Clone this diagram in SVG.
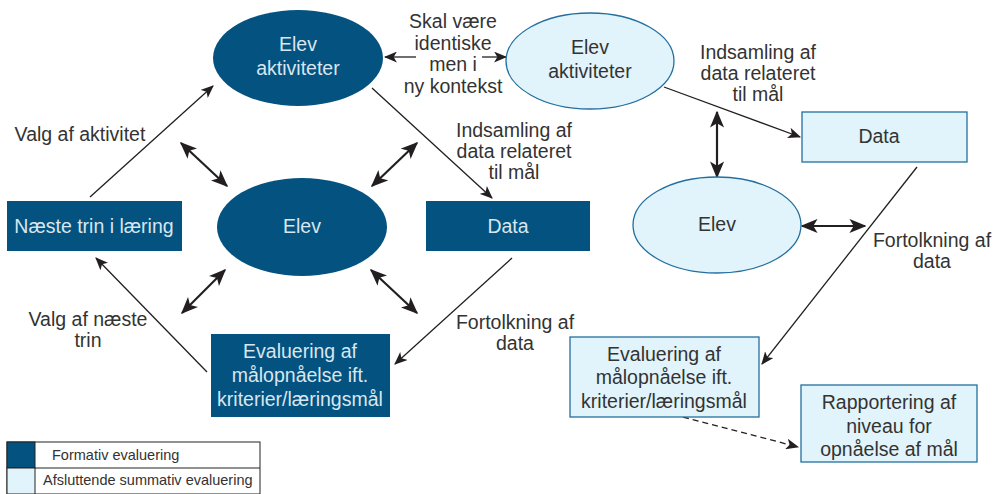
<svg xmlns="http://www.w3.org/2000/svg" width="998" height="494" viewBox="0 0 998 494">
<defs>
<marker id="ah" viewBox="0 0 12 10" refX="11" refY="5" markerWidth="13" markerHeight="11" markerUnits="userSpaceOnUse" orient="auto-start-reverse">
<path d="M0,0 L12,5 L0,10 L3,5 Z" fill="#231f20"/>
</marker>
<marker id="ahb" viewBox="0 0 12 10" refX="11" refY="5" markerWidth="17" markerHeight="15" markerUnits="userSpaceOnUse" orient="auto-start-reverse">
<path d="M0,0 L12,5 L0,10 L3,5 Z" fill="#231f20"/>
</marker>
</defs>
<style>
text{font-family:"Liberation Sans",Arial,sans-serif;font-size:19.5px;text-anchor:middle}
.dk{fill:#03527f}
.dt{fill:#d9e6ef}
.lt{fill:#e1f3fb;stroke:#236f9e;stroke-width:1.3}
.tt{fill:#333}
.c{stroke:#231f20;stroke-width:1.3;fill:none;marker-end:url(#ah)}
.d{stroke:#231f20;stroke-width:2.2;fill:none;marker-start:url(#ahb);marker-end:url(#ahb)}
.lb{fill:#333}
.lg{font-size:14.5px;text-anchor:start;fill:#333}
</style>
<rect width="998" height="494" fill="#fff"/>
<g id="connectors">
<line class="c" x1="90" y1="197" x2="213" y2="86"/>
<line class="c" x1="372" y1="88" x2="492" y2="198"/>
<line class="c" x1="512" y1="258" x2="395" y2="364"/>
<line class="c" x1="207" y1="372" x2="96" y2="258"/>
<line class="d" x1="181" y1="143" x2="227" y2="186"/>
<line class="d" x1="417" y1="143" x2="372" y2="186"/>
<line class="d" x1="225" y1="270" x2="182" y2="313"/>
<line class="d" x1="371" y1="270" x2="417" y2="313"/>
<line class="c" x1="416" y1="57" x2="385" y2="57"/>
<line class="c" x1="482" y1="57" x2="506" y2="57"/>
<line class="c" x1="664" y1="87" x2="800" y2="137"/>
<line class="d" x1="717" y1="112" x2="717" y2="177"/>
<line class="d" x1="802" y1="226" x2="865" y2="226"/>
<line class="c" x1="917" y1="167" x2="762" y2="364"/>
<line class="c" x1="683" y1="417" x2="798" y2="447" stroke-dasharray="6,4"/>
</g>
<g id="labels">
<text class="lb" x="80" y="141">Valg af aktivitet</text>
<text class="lb" x="453" y="28">Skal være</text>
<text class="lb" x="453" y="50">identiske</text>
<text class="lb" x="453" y="71">men i</text>
<text class="lb" x="453" y="93">ny kontekst</text>
<text class="lb" x="514" y="137">Indsamling af</text>
<text class="lb" x="514" y="158">data relateret</text>
<text class="lb" x="514" y="179">til mål</text>
<text class="lb" x="758" y="59">Indsamling af</text>
<text class="lb" x="758" y="80">data relateret</text>
<text class="lb" x="758" y="101">til mål</text>
<text class="lb" x="932" y="247">Fortolkning af</text>
<text class="lb" x="932" y="268">data</text>
<text class="lb" x="515" y="329">Fortolkning af</text>
<text class="lb" x="515" y="350">data</text>
<text class="lb" x="88" y="326">Valg af næste</text>
<text class="lb" x="88" y="347">trin</text>
</g>
<g id="elev-aktiviteter-f">
<ellipse class="dk" cx="298" cy="58" rx="85" ry="48"/>
<text class="dt" x="298" y="51">Elev</text>
<text class="dt" x="298" y="75">aktiviteter</text>
</g>
<g id="elev-f">
<ellipse class="dk" cx="302" cy="227" rx="85" ry="49"/>
<text class="dt" x="302" y="233">Elev</text>
</g>
<g id="naeste-trin">
<rect class="dk" x="7" y="201" width="175" height="50"/>
<text class="dt" x="94" y="233">Næste trin i læring</text>
</g>
<g id="data-f">
<rect class="dk" x="426" y="201" width="164" height="50"/>
<text class="dt" x="508" y="233">Data</text>
</g>
<g id="evaluering-f">
<rect class="dk" x="211" y="334" width="179" height="83"/>
<text class="dt" x="300" y="358">Evaluering af</text>
<text class="dt" x="300" y="382">målopnåelse ift.</text>
<text class="dt" x="300" y="406">kriterier/læringsmål</text>
</g>
<g id="elev-aktiviteter-s">
<ellipse class="lt" cx="590" cy="61" rx="84" ry="48"/>
<text class="tt" x="590" y="54">Elev</text>
<text class="tt" x="590" y="78">aktiviteter</text>
</g>
<g id="elev-s">
<ellipse class="lt" cx="717" cy="225" rx="84" ry="48"/>
<text class="tt" x="717" y="231">Elev</text>
</g>
<g id="data-s">
<rect class="lt" x="802" y="112" width="165" height="50"/>
<text class="tt" x="879" y="143">Data</text>
</g>
<g id="evaluering-s">
<rect class="lt" x="570" y="337" width="189" height="80"/>
<text class="tt" x="664" y="361">Evaluering af</text>
<text class="tt" x="664" y="384">målopnåelse ift.</text>
<text class="tt" x="664" y="408">kriterier/læringsmål</text>
</g>
<g id="rapportering">
<rect class="lt" x="801" y="385" width="176" height="77"/>
<text class="tt" x="889" y="409">Rapportering af</text>
<text class="tt" x="889" y="433">niveau for</text>
<text class="tt" x="889" y="456">opnåelse af mål</text>
</g>
<g id="legend">
<rect x="7" y="442" width="253" height="52" fill="#fff" stroke="#222" stroke-width="1"/>
<rect x="7" y="442" width="28" height="26" fill="#03527f" stroke="#222" stroke-width="1"/>
<rect x="7" y="468" width="28" height="26" fill="#e1f3fb" stroke="#222" stroke-width="1"/>
<line x1="35" y1="468" x2="260" y2="468" stroke="#222" stroke-width="1"/>
<text class="lg" x="52" y="460">Formativ evaluering</text>
<text class="lg" x="43" y="485">Afsluttende summativ evaluering</text>
</g>
</svg>
